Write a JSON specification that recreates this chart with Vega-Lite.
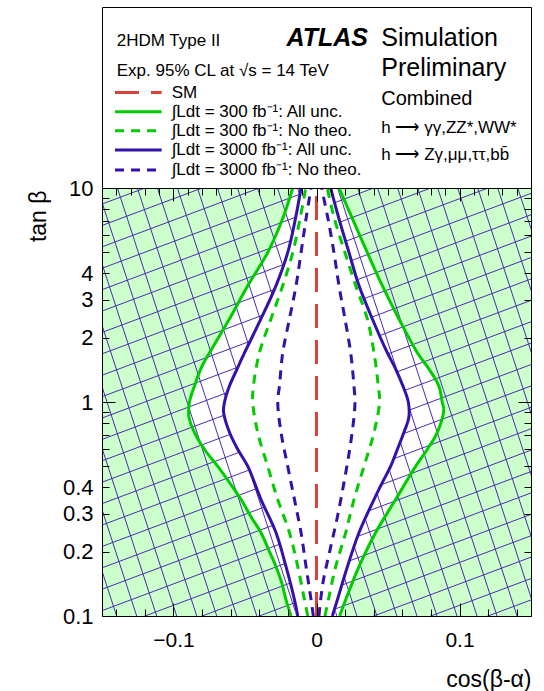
{
"$schema": "https://vega.github.io/schema/vega-lite/v6.json",
"width": 429, "height": 609,
"autosize": {"type": "none"},
"padding": {"left": 102, "top": 7, "right": 13, "bottom": 75},
"background": "white",
"config": {"font": "Liberation Sans", "view": {"stroke": null},
  "axis": {"grid": false, "labelFont": "Liberation Sans", "titleFont": "Liberation Sans", "labelColor": "#000", "titleColor": "#000", "domainColor": "#000", "tickColor": "#000", "domainWidth": 1, "tickWidth": 1},
  "text": {"font": "Liberation Sans", "color": "#000"}},
"data": {"values": [{}]},
"datasets": {
"curves": [
{"c":"gall","s":"L","t":10,"x":-0.0166},{"c":"gall","s":"L","t":7.2,"x":-0.0236},{"c":"gall","s":"L","t":5,"x":-0.0341},{"c":"gall","s":"L","t":3.5,"x":-0.048},{"c":"gall","s":"L","t":2.45,"x":-0.0608},{"c":"gall","s":"L","t":1.7,"x":-0.0748},{"c":"gall","s":"L","t":1.43,"x":-0.0809},{"c":"gall","s":"L","t":1.19,"x":-0.0853},{"c":"gall","s":"L","t":1,"x":-0.0888},{"c":"gall","s":"L","t":0.85,"x":-0.0892},{"c":"gall","s":"L","t":0.72,"x":-0.0853},{"c":"gall","s":"L","t":0.6,"x":-0.0783},{"c":"gall","s":"L","t":0.5,"x":-0.069},{"c":"gall","s":"L","t":0.42,"x":-0.0608},{"c":"gall","s":"L","t":0.35,"x":-0.0527},{"c":"gall","s":"L","t":0.29,"x":-0.0457},{"c":"gall","s":"L","t":0.245,"x":-0.0388},{"c":"gall","s":"L","t":0.2,"x":-0.0329},{"c":"gall","s":"L","t":0.17,"x":-0.0283},{"c":"gall","s":"L","t":0.143,"x":-0.0243},{"c":"gall","s":"L","t":0.119,"x":-0.0213},{"c":"gall","s":"L","t":0.1,"x":-0.0178},
{"c":"gall","s":"R","t":0.1,"x":0.0162},{"c":"gall","s":"R","t":0.119,"x":0.0204},{"c":"gall","s":"R","t":0.17,"x":0.0297},{"c":"gall","s":"R","t":0.245,"x":0.0413},{"c":"gall","s":"R","t":0.35,"x":0.0553},{"c":"gall","s":"R","t":0.5,"x":0.0693},{"c":"gall","s":"R","t":0.6,"x":0.0774},{"c":"gall","s":"R","t":0.72,"x":0.0844},{"c":"gall","s":"R","t":0.92,"x":0.089},{"c":"gall","s":"R","t":1,"x":0.0879},{"c":"gall","s":"R","t":1.19,"x":0.0855},{"c":"gall","s":"R","t":1.43,"x":0.0785},{"c":"gall","s":"R","t":1.7,"x":0.0705},{"c":"gall","s":"R","t":2.45,"x":0.0576},{"c":"gall","s":"R","t":3.5,"x":0.046},{"c":"gall","s":"R","t":5,"x":0.0355},{"c":"gall","s":"R","t":7.2,"x":0.0251},{"c":"gall","s":"R","t":10,"x":0.0157},
{"c":"ball","s":"L","t":10,"x":-0.0108},{"c":"ball","s":"L","t":7.2,"x":-0.0147},{"c":"ball","s":"L","t":5,"x":-0.0201},{"c":"ball","s":"L","t":3.5,"x":-0.0283},{"c":"ball","s":"L","t":2.45,"x":-0.0388},{"c":"ball","s":"L","t":1.7,"x":-0.0503},{"c":"ball","s":"L","t":1.43,"x":-0.0555},{"c":"ball","s":"L","t":1.19,"x":-0.0608},{"c":"ball","s":"L","t":1,"x":-0.0643},{"c":"ball","s":"L","t":0.9,"x":-0.065},{"c":"ball","s":"L","t":0.72,"x":-0.0608},{"c":"ball","s":"L","t":0.6,"x":-0.055},{"c":"ball","s":"L","t":0.5,"x":-0.048},{"c":"ball","s":"L","t":0.35,"x":-0.0388},{"c":"ball","s":"L","t":0.245,"x":-0.0283},{"c":"ball","s":"L","t":0.17,"x":-0.0213},{"c":"ball","s":"L","t":0.119,"x":-0.0154},{"c":"ball","s":"L","t":0.1,"x":-0.0131},
{"c":"ball","s":"R","t":0.1,"x":0.0111},{"c":"ball","s":"R","t":0.119,"x":0.0146},{"c":"ball","s":"R","t":0.17,"x":0.0216},{"c":"ball","s":"R","t":0.245,"x":0.0297},{"c":"ball","s":"R","t":0.35,"x":0.0402},{"c":"ball","s":"R","t":0.42,"x":0.046},{"c":"ball","s":"R","t":0.5,"x":0.0518},{"c":"ball","s":"R","t":0.6,"x":0.0565},{"c":"ball","s":"R","t":0.72,"x":0.0611},{"c":"ball","s":"R","t":0.85,"x":0.0646},{"c":"ball","s":"R","t":1,"x":0.0642},{"c":"ball","s":"R","t":1.19,"x":0.0604},{"c":"ball","s":"R","t":1.43,"x":0.0553},{"c":"ball","s":"R","t":1.7,"x":0.0495},{"c":"ball","s":"R","t":2.45,"x":0.039},{"c":"ball","s":"R","t":3.5,"x":0.0297},{"c":"ball","s":"R","t":5,"x":0.0227},{"c":"ball","s":"R","t":7.2,"x":0.0157},{"c":"ball","s":"R","t":10,"x":0.0099},
{"c":"gnoth","s":"L","t":10,"x":-0.0075},{"c":"gnoth","s":"L","t":7.2,"x":-0.0115},{"c":"gnoth","s":"L","t":5,"x":-0.0166},{"c":"gnoth","s":"L","t":3.5,"x":-0.0236},{"c":"gnoth","s":"L","t":2.45,"x":-0.0318},{"c":"gnoth","s":"L","t":1.7,"x":-0.0399},{"c":"gnoth","s":"L","t":1.19,"x":-0.0441},{"c":"gnoth","s":"L","t":1,"x":-0.0446},{"c":"gnoth","s":"L","t":0.72,"x":-0.0411},{"c":"gnoth","s":"L","t":0.5,"x":-0.0341},{"c":"gnoth","s":"L","t":0.35,"x":-0.0271},{"c":"gnoth","s":"L","t":0.245,"x":-0.0189},{"c":"gnoth","s":"L","t":0.17,"x":-0.0131},{"c":"gnoth","s":"L","t":0.119,"x":-0.0084},{"c":"gnoth","s":"L","t":0.1,"x":-0.0061},
{"c":"gnoth","s":"R","t":10,"x":0.0075},{"c":"gnoth","s":"R","t":7.2,"x":0.0125},{"c":"gnoth","s":"R","t":5,"x":0.0199},{"c":"gnoth","s":"R","t":3.5,"x":0.0274},{"c":"gnoth","s":"R","t":2.45,"x":0.0355},{"c":"gnoth","s":"R","t":1.7,"x":0.0402},{"c":"gnoth","s":"R","t":1.19,"x":0.0432},{"c":"gnoth","s":"R","t":1,"x":0.0441},{"c":"gnoth","s":"R","t":0.72,"x":0.0402},{"c":"gnoth","s":"R","t":0.5,"x":0.0332},{"c":"gnoth","s":"R","t":0.35,"x":0.0262},{"c":"gnoth","s":"R","t":0.245,"x":0.0204},{"c":"gnoth","s":"R","t":0.17,"x":0.0134},{"c":"gnoth","s":"R","t":0.119,"x":0.0083},{"c":"gnoth","s":"R","t":0.1,"x":0.0059},
{"c":"bnoth","s":"L","t":10,"x":-0.0038},{"c":"bnoth","s":"L","t":7.2,"x":-0.0073},{"c":"bnoth","s":"L","t":5,"x":-0.0108},{"c":"bnoth","s":"L","t":3.5,"x":-0.0143},{"c":"bnoth","s":"L","t":2.45,"x":-0.0189},{"c":"bnoth","s":"L","t":1.7,"x":-0.0236},{"c":"bnoth","s":"L","t":1.19,"x":-0.0259},{"c":"bnoth","s":"L","t":1,"x":-0.0271},{"c":"bnoth","s":"L","t":0.72,"x":-0.0248},{"c":"bnoth","s":"L","t":0.5,"x":-0.0201},{"c":"bnoth","s":"L","t":0.35,"x":-0.0154},{"c":"bnoth","s":"L","t":0.245,"x":-0.0108},{"c":"bnoth","s":"L","t":0.17,"x":-0.0073},{"c":"bnoth","s":"L","t":0.119,"x":-0.0038},{"c":"bnoth","s":"L","t":0.1,"x":-0.0022},
{"c":"bnoth","s":"R","t":10,"x":0.0036},{"c":"bnoth","s":"R","t":7.2,"x":0.008},{"c":"bnoth","s":"R","t":5,"x":0.0122},{"c":"bnoth","s":"R","t":3.5,"x":0.0157},{"c":"bnoth","s":"R","t":2.45,"x":0.0199},{"c":"bnoth","s":"R","t":1.7,"x":0.0239},{"c":"bnoth","s":"R","t":1.19,"x":0.0262},{"c":"bnoth","s":"R","t":1,"x":0.0269},{"c":"bnoth","s":"R","t":0.85,"x":0.0262},{"c":"bnoth","s":"R","t":0.6,"x":0.0232},{"c":"bnoth","s":"R","t":0.42,"x":0.0192},{"c":"bnoth","s":"R","t":0.29,"x":0.0146},{"c":"bnoth","s":"R","t":0.2,"x":0.0092},{"c":"bnoth","s":"R","t":0.143,"x":0.0045},{"c":"bnoth","s":"R","t":0.1,"x":0.0017},
{"c":"sm","s":"C","t":0.1,"x":0},{"c":"sm","s":"C","t":10,"x":0}
],
"hatch": [
{"h":"A00","x":-0.16,"t":0.015849},{"h":"A00","x":0.16,"t":0.1},
{"h":"A01","x":-0.16,"t":0.019953},{"h":"A01","x":0.16,"t":0.125893},
{"h":"A02","x":-0.16,"t":0.025119},{"h":"A02","x":0.16,"t":0.158489},
{"h":"A03","x":-0.16,"t":0.031623},{"h":"A03","x":0.16,"t":0.199526},
{"h":"A04","x":-0.16,"t":0.039811},{"h":"A04","x":0.16,"t":0.251189},
{"h":"A05","x":-0.16,"t":0.050119},{"h":"A05","x":0.16,"t":0.316228},
{"h":"A06","x":-0.16,"t":0.063096},{"h":"A06","x":0.16,"t":0.398107},
{"h":"A07","x":-0.16,"t":0.079433},{"h":"A07","x":0.16,"t":0.501187},
{"h":"A08","x":-0.16,"t":0.1},{"h":"A08","x":0.16,"t":0.630957},
{"h":"A09","x":-0.16,"t":0.125893},{"h":"A09","x":0.16,"t":0.794328},
{"h":"A10","x":-0.16,"t":0.158489},{"h":"A10","x":0.16,"t":1},
{"h":"A11","x":-0.16,"t":0.199526},{"h":"A11","x":0.16,"t":1.258925},
{"h":"A12","x":-0.16,"t":0.251189},{"h":"A12","x":0.16,"t":1.584893},
{"h":"A13","x":-0.16,"t":0.316228},{"h":"A13","x":0.16,"t":1.995262},
{"h":"A14","x":-0.16,"t":0.398107},{"h":"A14","x":0.16,"t":2.511886},
{"h":"A15","x":-0.16,"t":0.501187},{"h":"A15","x":0.16,"t":3.162278},
{"h":"A16","x":-0.16,"t":0.630957},{"h":"A16","x":0.16,"t":3.981072},
{"h":"A17","x":-0.16,"t":0.794328},{"h":"A17","x":0.16,"t":5.011872},
{"h":"A18","x":-0.16,"t":1},{"h":"A18","x":0.16,"t":6.309573},
{"h":"A19","x":-0.16,"t":1.258925},{"h":"A19","x":0.16,"t":7.943282},
{"h":"A20","x":-0.16,"t":1.584893},{"h":"A20","x":0.16,"t":10},
{"h":"A21","x":-0.16,"t":1.995262},{"h":"A21","x":0.16,"t":12.589254},
{"h":"A22","x":-0.16,"t":2.511886},{"h":"A22","x":0.16,"t":15.848932},
{"h":"A23","x":-0.16,"t":3.162278},{"h":"A23","x":0.16,"t":19.952623},
{"h":"A24","x":-0.16,"t":3.981072},{"h":"A24","x":0.16,"t":25.118864},
{"h":"A25","x":-0.16,"t":5.011872},{"h":"A25","x":0.16,"t":31.622777},
{"h":"A26","x":-0.16,"t":6.309573},{"h":"A26","x":0.16,"t":39.810717},
{"h":"A27","x":-0.16,"t":7.943282},{"h":"A27","x":0.16,"t":50.118723},
{"h":"A28","x":-0.16,"t":10},{"h":"A28","x":0.16,"t":63.095734},
{"h":"B00","x":-0.3,"t":100},{"h":"B00","x":-0.105,"t":0.01},
{"h":"B01","x":-0.286,"t":100},{"h":"B01","x":-0.091,"t":0.01},
{"h":"B02","x":-0.272,"t":100},{"h":"B02","x":-0.077,"t":0.01},
{"h":"B03","x":-0.258,"t":100},{"h":"B03","x":-0.063,"t":0.01},
{"h":"B04","x":-0.244,"t":100},{"h":"B04","x":-0.049,"t":0.01},
{"h":"B05","x":-0.23,"t":100},{"h":"B05","x":-0.035,"t":0.01},
{"h":"B06","x":-0.216,"t":100},{"h":"B06","x":-0.021,"t":0.01},
{"h":"B07","x":-0.202,"t":100},{"h":"B07","x":-0.007,"t":0.01},
{"h":"B08","x":-0.188,"t":100},{"h":"B08","x":0.007,"t":0.01},
{"h":"B09","x":-0.174,"t":100},{"h":"B09","x":0.021,"t":0.01},
{"h":"B10","x":-0.16,"t":100},{"h":"B10","x":0.035,"t":0.01},
{"h":"B11","x":-0.146,"t":100},{"h":"B11","x":0.049,"t":0.01},
{"h":"B12","x":-0.132,"t":100},{"h":"B12","x":0.063,"t":0.01},
{"h":"B13","x":-0.118,"t":100},{"h":"B13","x":0.077,"t":0.01},
{"h":"B14","x":-0.104,"t":100},{"h":"B14","x":0.091,"t":0.01},
{"h":"B15","x":-0.09,"t":100},{"h":"B15","x":0.105,"t":0.01},
{"h":"B16","x":-0.076,"t":100},{"h":"B16","x":0.119,"t":0.01},
{"h":"B17","x":-0.062,"t":100},{"h":"B17","x":0.133,"t":0.01},
{"h":"B18","x":-0.048,"t":100},{"h":"B18","x":0.147,"t":0.01},
{"h":"B19","x":-0.034,"t":100},{"h":"B19","x":0.161,"t":0.01},
{"h":"B20","x":-0.02,"t":100},{"h":"B20","x":0.175,"t":0.01},
{"h":"B21","x":-0.006,"t":100},{"h":"B21","x":0.189,"t":0.01},
{"h":"B22","x":0.008,"t":100},{"h":"B22","x":0.203,"t":0.01},
{"h":"B23","x":0.022,"t":100},{"h":"B23","x":0.217,"t":0.01},
{"h":"B24","x":0.036,"t":100},{"h":"B24","x":0.231,"t":0.01},
{"h":"B25","x":0.05,"t":100},{"h":"B25","x":0.245,"t":0.01},
{"h":"B26","x":0.064,"t":100},{"h":"B26","x":0.259,"t":0.01},
{"h":"B27","x":0.078,"t":100},{"h":"B27","x":0.273,"t":0.01},
{"h":"B28","x":0.092,"t":100},{"h":"B28","x":0.287,"t":0.01},
{"h":"B29","x":0.106,"t":100},{"h":"B29","x":0.301,"t":0.01}
]
},
"resolve": {"axis": {"x": "independent", "y": "independent"}},
"layer": [
{"mark": {"type": "rect", "color": "#ccffcc", "clip": true},
 "encoding": {"x": {"datum": -0.15, "axis": null}, "x2": {"datum": 0.15}, "y": {"datum": 0.1, "axis": null}, "y2": {"datum": 10}}},
{"data": {"name": "curves"}, "transform": [{"filter": "datum.c === 'gall'"}],
 "mark": {"type": "line", "fill": "white", "stroke": "white", "strokeWidth": 0.5, "interpolate": "catmull-rom", "clip": true},
 "encoding": {
  "y": {"field": "t", "type": "quantitative", "scale": {"type": "log", "domain": [0.1, 70.14], "nice": false},
        "axis": {"orient": "left", "values": [0.1,0.2,0.3,0.4,1,2,3,4,10], "format": "~g", "ticks": false, "tickSize": 0, "domain": true, "labelFontSize": 22, "labelPadding": 9, "labelOverlap": false, "labelFlush": false, "title": "tan β", "titleFontSize": 23, "titleFontWeight": "normal", "titleAngle": -90, "titleAlign": "right", "titleBaseline": "middle", "titleX": -64, "titleY": 183, "zindex": 1}},
  "x": {"field": "x", "type": "quantitative", "scale": {"domain": [-0.15, 0.15], "nice": false, "zero": false},
        "axis": {"orient": "bottom", "values": [-0.1, 0, 0.1], "format": ".1~f", "ticks": false, "tickSize": 0, "domain": true, "labelFontSize": 21, "labelPadding": 13, "labelFlush": false, "title": "cos(β-α)", "titleFontSize": 23, "titleFontWeight": "normal", "titleAnchor": "end", "titleAlign": "right", "titleBaseline": "alphabetic", "titleY": 70, "zindex": 1}},
  "order": {"value": null}}},
{"data": {"name": "hatch"},
 "mark": {"type": "line", "color": "#4a2cb0", "strokeWidth": 1, "clip": true},
 "encoding": {
  "y": {"field": "t", "type": "quantitative", "scale": {"type": "log", "domain": [0.1, 70.14], "nice": false},
        "axis": {"orient": "left", "values": [0.1, 1, 10], "labels": false, "domain": false, "ticks": true, "tickSize": -13, "title": null, "zindex": 1}},
  "x": {"field": "x", "type": "quantitative", "scale": {"domain": [-0.15, 0.15], "nice": false, "zero": false},
        "axis": {"orient": "bottom", "values": [-0.1, 0, 0.1], "labels": false, "domain": false, "ticks": true, "tickSize": -13, "title": null, "zindex": 1}},
  "detail": {"field": "h", "type": "nominal"}}},
{"data": {"name": "curves"}, "transform": [{"filter": "datum.c === 'ball'"}],
 "mark": {"type": "line", "fill": "white", "stroke": "white", "strokeWidth": 0.5, "interpolate": "catmull-rom", "clip": true},
 "encoding": {
  "y": {"field": "t", "type": "quantitative",
        "axis": {"orient": "left", "values": [0.2,0.3,0.4,0.5,0.6,0.7,0.8,0.9,2,3,4,5,6,7,8,9], "labels": false, "domain": false, "ticks": true, "tickSize": -7, "title": null, "zindex": 1}},
  "x": {"field": "x", "type": "quantitative",
        "axis": {"orient": "bottom", "values": [-0.14,-0.12,-0.08,-0.06,-0.04,-0.02,0.02,0.04,0.06,0.08,0.12,0.14], "labels": false, "domain": false, "ticks": true, "tickSize": -7, "title": null, "zindex": 1}},
  "order": {"value": null}}},
{"mark": {"type": "rect", "color": "white", "clip": true},
 "encoding": {"x": {"datum": -0.15, "axis": null}, "x2": {"datum": 0.15}, "y": {"datum": 10, "axis": null}, "y2": {"datum": 70.14}}},
{"data": {"name": "curves"}, "transform": [{"filter": "datum.c === 'sm'"}],
 "mark": {"type": "line", "color": "#d9433a", "strokeWidth": 3, "strokeDash": [24, 12], "clip": true},
 "encoding": {
  "y": {"field": "t", "type": "quantitative",
        "axis": {"orient": "right", "values": [0.2,0.3,0.4,0.5,0.6,0.7,0.8,0.9,2,3,4,5,6,7,8,9], "labels": false, "domain": true, "ticks": true, "tickSize": -7, "title": null, "zindex": 1}},
  "x": {"field": "x", "type": "quantitative",
        "axis": {"orient": "top", "offset": -181, "values": [-0.14,-0.13,-0.12,-0.11,-0.09,-0.08,-0.07,-0.06,-0.05,-0.04,-0.03,-0.02,-0.01,0.01,0.02,0.03,0.04,0.05,0.06,0.07,0.08,0.09,0.11,0.12,0.13,0.14], "labels": false, "domain": true, "ticks": true, "tickSize": -7, "title": null, "zindex": 1}},
  "order": {"field": "t", "type": "quantitative"}}},
{"data": {"name": "curves"}, "transform": [{"filter": "datum.c === 'bnoth'"}],
 "mark": {"type": "line", "color": "#3311aa", "strokeWidth": 3, "strokeDash": [9, 7], "interpolate": "catmull-rom", "clip": true},
 "encoding": {
  "y": {"field": "t", "type": "quantitative",
        "axis": {"orient": "right", "values": [0.1, 1, 10], "labels": false, "domain": false, "ticks": true, "tickSize": -13, "title": null, "zindex": 1}},
  "x": {"field": "x", "type": "quantitative",
        "axis": {"orient": "top", "offset": -181, "values": [-0.1, 0, 0.1], "labels": false, "domain": false, "ticks": true, "tickSize": -13, "title": null, "zindex": 1}},
  "detail": {"field": "s", "type": "nominal"},
  "order": {"field": "t", "type": "quantitative"}}},
{"data": {"name": "curves"}, "transform": [{"filter": "datum.c === 'gnoth'"}],
 "mark": {"type": "line", "color": "#00cc00", "strokeWidth": 3, "strokeDash": [9, 7], "interpolate": "catmull-rom", "clip": true},
 "encoding": {
  "y": {"field": "t", "type": "quantitative", "axis": null},
  "x": {"field": "x", "type": "quantitative", "axis": {"orient": "top", "labels": false, "ticks": false, "domain": true, "title": null, "zindex": 1}},
  "detail": {"field": "s", "type": "nominal"},
  "order": {"field": "t", "type": "quantitative"}}},
{"data": {"name": "curves"}, "transform": [{"filter": "datum.c === 'ball'"}],
 "mark": {"type": "line", "color": "#3311aa", "strokeWidth": 3, "interpolate": "catmull-rom", "clip": true},
 "encoding": {
  "y": {"field": "t", "type": "quantitative", "axis": null},
  "x": {"field": "x", "type": "quantitative", "axis": null},
  "detail": {"field": "s", "type": "nominal"},
  "order": {"field": "t", "type": "quantitative"}}},
{"data": {"name": "curves"}, "transform": [{"filter": "datum.c === 'gall'"}],
 "mark": {"type": "line", "color": "#00cc00", "strokeWidth": 3, "interpolate": "catmull-rom", "clip": true},
 "encoding": {
  "y": {"field": "t", "type": "quantitative", "axis": null},
  "x": {"field": "x", "type": "quantitative", "axis": null},
  "detail": {"field": "s", "type": "nominal"},
  "order": {"field": "t", "type": "quantitative"}}},
{"mark": {"type": "rule", "color": "#d9433a", "strokeWidth": 3, "strokeDash": [24, 12]},
 "encoding": {"x": {"datum": -0.1409, "axis": null}, "x2": {"datum": -0.1083}, "y": {"datum": 27.95, "axis": null}}},
{"mark": {"type": "rule", "color": "#00cc00", "strokeWidth": 3},
 "encoding": {"x": {"datum": -0.1409, "axis": null}, "x2": {"datum": -0.1083}, "y": {"datum": 22.73, "axis": null}}},
{"mark": {"type": "rule", "color": "#00cc00", "strokeWidth": 3, "strokeDash": [9, 7]},
 "encoding": {"x": {"datum": -0.1409, "axis": null}, "x2": {"datum": -0.1083}, "y": {"datum": 18.52, "axis": null}}},
{"mark": {"type": "rule", "color": "#3311aa", "strokeWidth": 3},
 "encoding": {"x": {"datum": -0.1409, "axis": null}, "x2": {"datum": -0.1083}, "y": {"datum": 15.05, "axis": null}}},
{"mark": {"type": "rule", "color": "#3311aa", "strokeWidth": 3, "strokeDash": [9, 7]},
 "encoding": {"x": {"datum": -0.1409, "axis": null}, "x2": {"datum": -0.1083}, "y": {"datum": 12.14, "axis": null}}},
{"mark": {"type": "text", "text": "2HDM Type II", "align": "left", "baseline": "middle", "fontSize": 17},
 "encoding": {"x": {"datum": -0.1397, "axis": null}, "y": {"datum": 48.47, "axis": null}}},
{"mark": {"type": "text", "text": "Exp. 95% CL at √s = 14 TeV", "align": "left", "baseline": "middle", "fontSize": 17},
 "encoding": {"x": {"datum": -0.1397, "axis": null}, "y": {"datum": 35.33, "axis": null}}},
{"mark": {"type": "text", "text": "SM", "align": "left", "baseline": "middle", "fontSize": 17},
 "encoding": {"x": {"datum": -0.1013, "axis": null}, "y": {"datum": 27.95, "axis": null}}},
{"mark": {"type": "text", "text": "∫Ldt = 300 fb⁻¹: All unc.", "align": "left", "baseline": "middle", "fontSize": 17},
 "encoding": {"x": {"datum": -0.1013, "axis": null}, "y": {"datum": 22.73, "axis": null}}},
{"mark": {"type": "text", "text": "∫Ldt = 300 fb⁻¹: No theo.", "align": "left", "baseline": "middle", "fontSize": 17},
 "encoding": {"x": {"datum": -0.1013, "axis": null}, "y": {"datum": 18.52, "axis": null}}},
{"mark": {"type": "text", "text": "∫Ldt = 3000 fb⁻¹: All unc.", "align": "left", "baseline": "middle", "fontSize": 17},
 "encoding": {"x": {"datum": -0.1013, "axis": null}, "y": {"datum": 15.05, "axis": null}}},
{"mark": {"type": "text", "text": "∫Ldt = 3000 fb⁻¹: No theo.", "align": "left", "baseline": "middle", "fontSize": 17},
 "encoding": {"x": {"datum": -0.1013, "axis": null}, "y": {"datum": 12.14, "axis": null}}},
{"mark": {"type": "text", "text": "ATLAS", "align": "left", "baseline": "middle", "fontSize": 25, "fontWeight": "bold", "fontStyle": "italic"},
 "encoding": {"x": {"datum": -0.021, "axis": null}, "y": {"datum": 50.06, "axis": null}}},
{"mark": {"type": "text", "text": "Simulation", "align": "left", "baseline": "middle", "fontSize": 25},
 "encoding": {"x": {"datum": 0.0453, "axis": null}, "y": {"datum": 50.06, "axis": null}}},
{"mark": {"type": "text", "text": "Preliminary", "align": "left", "baseline": "middle", "fontSize": 25},
 "encoding": {"x": {"datum": 0.0453, "axis": null}, "y": {"datum": 36.25, "axis": null}}},
{"mark": {"type": "text", "text": "Combined", "align": "left", "baseline": "middle", "fontSize": 20},
 "encoding": {"x": {"datum": 0.0453, "axis": null}, "y": {"datum": 26.12, "axis": null}}},
{"mark": {"type": "text", "text": "h ⟶ γγ,ZZ*,WW*", "align": "left", "baseline": "middle", "fontSize": 17},
 "encoding": {"x": {"datum": 0.0453, "axis": null}, "y": {"datum": 19.17, "axis": null}}},
{"mark": {"type": "text", "text": "h ⟶ Zγ,μμ,ττ,bb̄", "align": "left", "baseline": "middle", "fontSize": 17},
 "encoding": {"x": {"datum": 0.0453, "axis": null}, "y": {"datum": 14.26, "axis": null}}}
]
}
